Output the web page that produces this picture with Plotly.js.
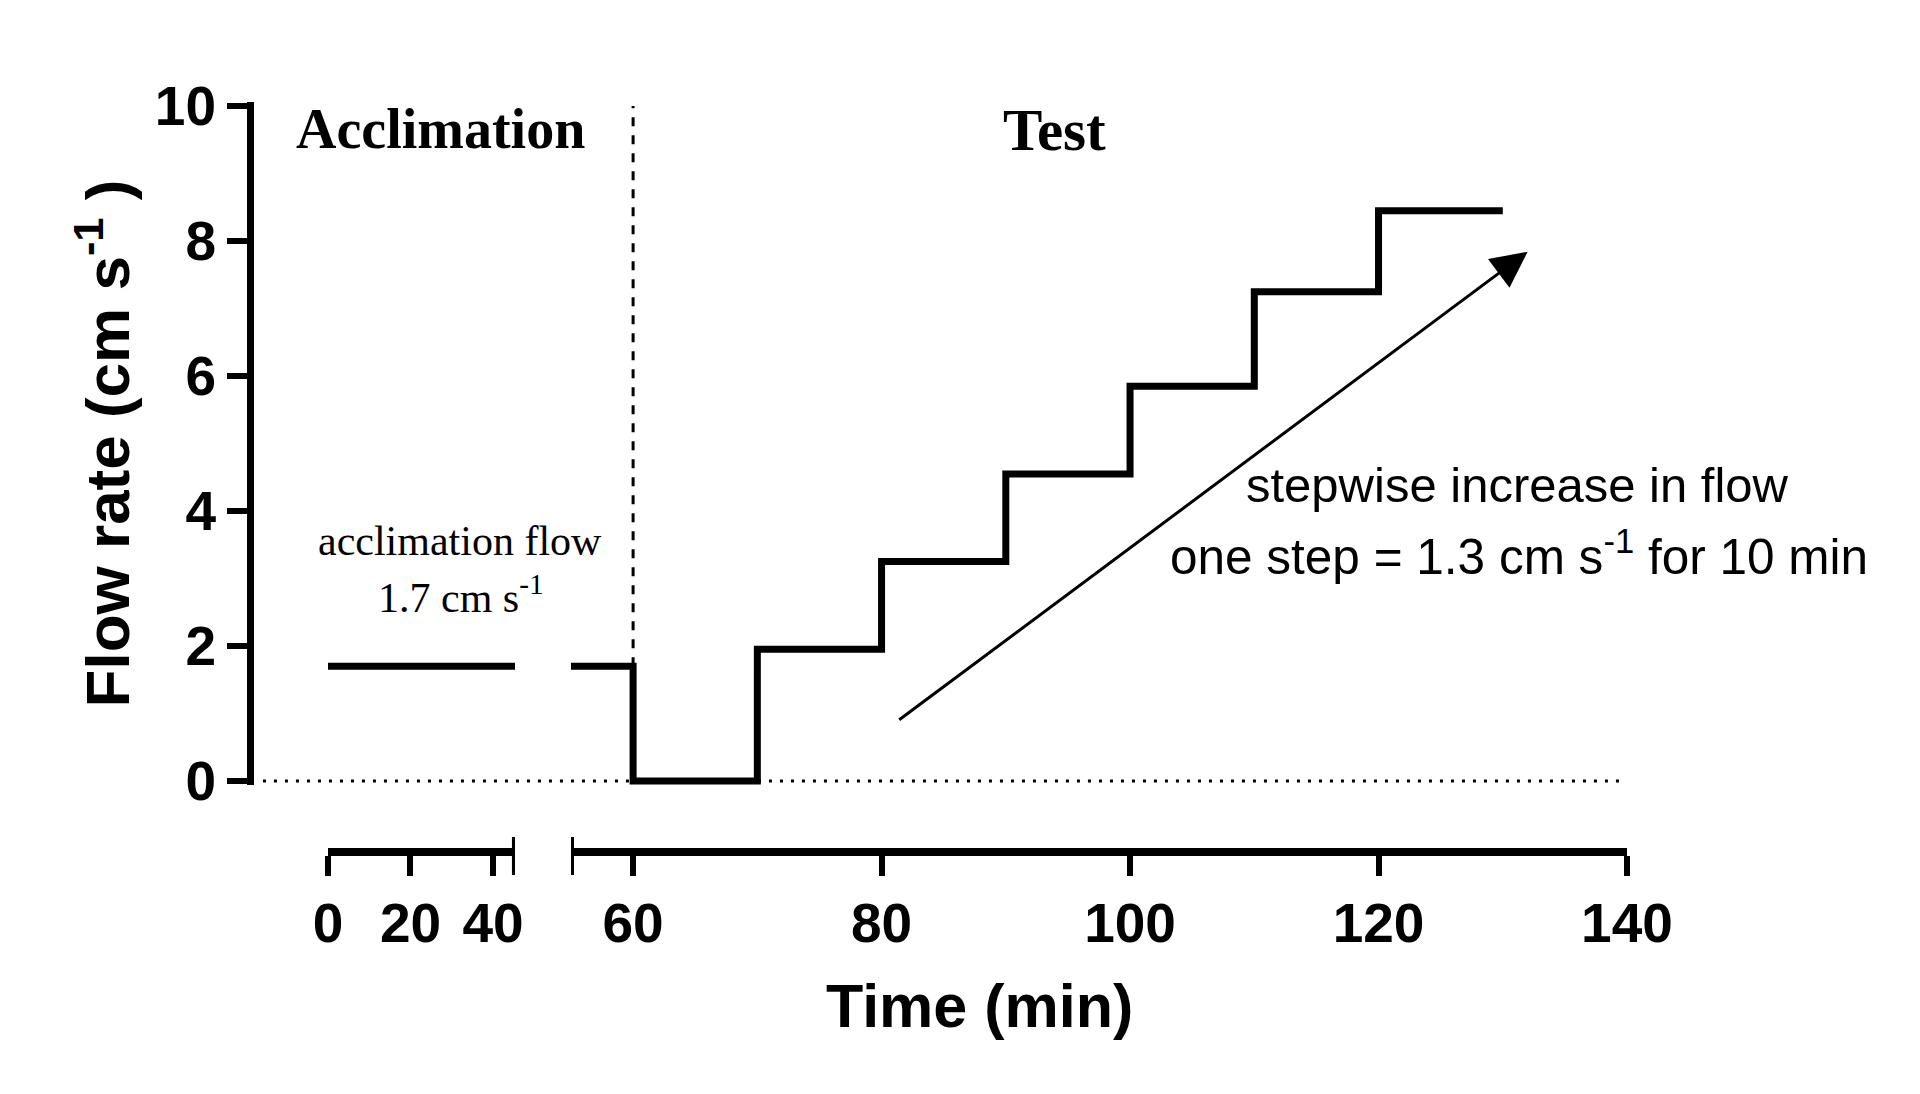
<!DOCTYPE html>
<html>
<head>
<meta charset="utf-8">
<script src="https://cdn.plot.ly/plotly-3.0.1.min.js"></script>
<style>html,body{margin:0;padding:0;background:#fff;}#chart{width:1920px;height:1094px;}</style>
</head>
<body>
<div id="chart"></div>
<script>
// ---- data ----
const acclimX = [0, 47];
const acclimY = [1.7, 1.7];
const testX = [54.4, 60, 70, 80, 90, 100, 110, 120, 130];
const testY = [1.7, 0, 1.95, 3.25, 4.55, 5.85, 7.25, 8.45, 8.45];
const leftTicks = [0, 20, 40];
const rightTicks = [60, 80, 100, 120, 140];
const yTicks = [0, 2, 4, 6, 8, 10];
const leftRange = [0, 45.3];
const rightRange = [55, 140];
const yRange = [-0.06, 10.06];
const phaseBoundary = 60;
const arrowTail = [81.3, 0.89];
const arrowTip = [132, 7.84];

const sans = 'Liberation Sans, Arial, sans-serif';
const serif = 'Liberation Serif, Times New Roman, serif';

const traces = [
  {x: acclimX, y: acclimY, xaxis: 'x', yaxis: 'y', mode: 'lines',
   line: {color: '#000', width: 7}, hoverinfo: 'skip', showlegend: false},
  {x: testX, y: testY, xaxis: 'x2', yaxis: 'y', mode: 'lines',
   line: {color: '#000', width: 7, shape: 'hv'}, hoverinfo: 'skip', showlegend: false}
];

const tickFont = {family: sans, size: 55, color: '#000', weight: 700};
const xCommon = {
  anchor: 'free', position: 0, showgrid: false, zeroline: false,
  showline: true, linecolor: '#000', linewidth: 8,
  ticks: 'outside', ticklen: 20, tickwidth: 6, tickcolor: '#000',
  tickmode: 'array', tickfont: tickFont, fixedrange: true
};

const layout = {
  width: 1920, height: 1094,
  margin: {l: 250, r: 293, t: 102, b: 242, autoexpand: false},
  paper_bgcolor: '#fff', plot_bgcolor: '#fff',
  showlegend: false,
  xaxis: Object.assign({}, xCommon, {domain: [0.0566, 0.1924], range: leftRange, tickvals: leftTicks}),
  xaxis2: Object.assign({}, xCommon, {domain: [0.2331, 1], range: rightRange, tickvals: rightTicks}),
  yaxis: {
    domain: [0.0893, 1], range: yRange, anchor: 'free', position: 0,
    showgrid: false, zeroline: false, showline: true, linecolor: '#000', linewidth: 7,
    ticks: 'outside', ticklen: 20, tickwidth: 6, tickcolor: '#000',
    tickmode: 'array', tickvals: yTicks, tickfont: tickFont, fixedrange: true,
    title: {text: 'Flow rate (cm s<sup>-1</sup> )', font: {family: sans, size: 62, color: '#000', weight: 700}, standoff: 4}
  },
  shapes: [
    {type: 'line', xref: 'paper', yref: 'y', x0: 0.0094, x1: 0.995, y0: 0, y1: 0,
     line: {color: '#000', width: 3, dash: '3px,8px'}},
    {type: 'line', xref: 'x2', yref: 'y', x0: phaseBoundary, x1: phaseBoundary, y0: acclimY[0], y1: 10,
     line: {color: '#000', width: 3, dash: '9px,9px'}},
    {type: 'line', xref: 'x', yref: 'paper', x0: leftRange[1], x1: leftRange[1], y0: -0.0307, y1: 0.02,
     line: {color: '#000', width: 6}},
    {type: 'line', xref: 'x2', yref: 'paper', x0: rightRange[0], x1: rightRange[0], y0: -0.0307, y1: 0.02,
     line: {color: '#000', width: 6}}
  ],
  annotations: [
    {text: 'Acclimation', xref: 'paper', yref: 'paper', x: 0.1387, y: 0.964, xanchor: 'center', yanchor: 'middle',
     showarrow: false, font: {family: serif, size: 56, color: '#000', weight: 700}},
    {text: 'Test', xref: 'paper', yref: 'paper', x: 0.5839, y: 0.963, xanchor: 'center', yanchor: 'middle',
     showarrow: false, font: {family: serif, size: 59, color: '#000', weight: 700}},
    {text: 'acclimation flow', xref: 'paper', yref: 'paper', x: 0.1525, y: (852 - 541) / 750, xanchor: 'center', yanchor: 'middle',
     showarrow: false, font: {family: serif, size: 42, color: '#000'}},
    {text: '1.7 cm s<sup>-1</sup>', xref: 'paper', yref: 'paper', x: 0.1532, y: (852 - 594) / 750, xanchor: 'center', yanchor: 'middle',
     showarrow: false, font: {family: serif, size: 42, color: '#000'}},
    {text: 'stepwise increase in flow', xref: 'paper', yref: 'paper', x: 0.9208, y: (852 - 485) / 750, xanchor: 'center', yanchor: 'middle',
     showarrow: false, font: {family: sans, size: 49, color: '#000'}},
    {text: 'one step = 1.3 cm s<sup>-1</sup> for 10 min', xref: 'paper', yref: 'paper', x: 0.9215, y: (852 - 553) / 750, xanchor: 'center', yanchor: 'middle',
     showarrow: false, font: {family: sans, size: 49.5, color: '#000'}},
    {text: 'Time (min)', xref: 'paper', yref: 'paper', x: (979 - 250) / 1377, y: (852 - 1006) / 750, xanchor: 'center', yanchor: 'middle',
     showarrow: false, font: {family: sans, size: 61, color: '#000', weight: 700}},
    {text: '', xref: 'x2', yref: 'y', x: arrowTip[0], y: arrowTip[1], axref: 'x2', ayref: 'y', ax: arrowTail[0], ay: arrowTail[1],
     showarrow: true, arrowhead: 2, arrowsize: 2.4, arrowwidth: 3, arrowcolor: '#000', standoff: 0}
  ]
};

Plotly.newPlot('chart', traces, layout, {staticPlot: true, displayModeBar: false});
</script>
</body>
</html>
